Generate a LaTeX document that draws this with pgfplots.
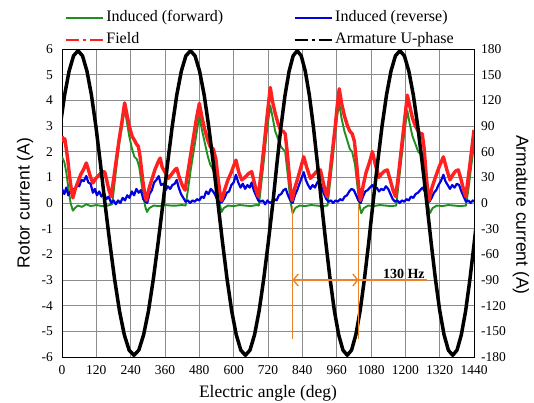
\documentclass[border=0pt]{standalone}
\usepackage{pgfplots}
\pgfplotsset{compat=1.18}
\usepackage{fontspec}
\setmainfont{Liberation Serif}
\newfontfamily\arialfam{Liberation Sans}
\usetikzlibrary{arrows.meta}
\definecolor{cForward}{HTML}{1F8F1F}
\definecolor{cReverse}{HTML}{0000E0}
\definecolor{cField}{HTML}{FF2020}
\definecolor{cOrange}{HTML}{E8842C}
\definecolor{cGrid}{HTML}{8C8C8C}

\begin{document}
\begin{tikzpicture}
\pgfplotsset{
  every axis/.append style={
    scale only axis, width=412pt, height=308pt,
    xmin=0, xmax=1440,
    tick style={draw=none},
    /pgf/number format/assume math mode=true,
    /pgf/number format/1000 sep={},
    tick label style={font=\rmfamily\fontsize{13.5}{14}\selectfont},
    axis line style={line width=0.9pt},
    every axis plot/.append style={line join=round},
  }
}
\begin{axis}[
  ymin=-6, ymax=6,
  xtick={0,120,...,1440}, ytick={-6,-5,...,6},
  grid=major, grid style={cGrid, line width=0.9pt},
  xticklabel style={inner sep=0pt, yshift=-8pt},
  yticklabel style={inner sep=0pt, xshift=-9pt},
  xlabel={Electric angle (deg)},
  ylabel={Rotor current (A)},
  xlabel style={font=\rmfamily\fontsize{17.5}{18}\selectfont,
    at={(axis description cs:0.5,0)}, anchor=north, inner sep=0pt, yshift=-28pt},
  ylabel style={font=\arialfam\fontsize{17.5}{18}\selectfont,
    at={(axis description cs:-0.0898,0.5)}, anchor=center},
  legend columns=2,
  legend cell align=left,
  legend image code/.code={\draw[#1] (0pt,0pt) -- (37pt,0pt);},
  legend style={draw=none, fill=none, inner sep=0pt, outer sep=0pt,
    at={(0.007,1.127)}, anchor=north west,
    font=\rmfamily\fontsize{16}{17}\selectfont,
    nodes={inner sep=0.5pt, text height=11pt, text depth=3.5pt},
    row sep=6.5pt,
    /tikz/every odd column/.append style={column sep=2pt},
    /tikz/every even column/.append style={column sep=70pt}},
]
\addlegendimage{color=cForward, line width=1.8pt}
\addlegendimage{color=cReverse, line width=1.8pt}
\addlegendimage{color=cField, line width=2pt, dash pattern=on 13pt off 4pt on 3pt off 4pt on 13pt}
\addlegendimage{color=black, line width=2pt, dash pattern=on 13pt off 4pt on 3pt off 4pt on 13pt}
\legend{Induced (forward), Induced (reverse), Field, Armature U-phase}

% Induced (forward)
\addplot[color=cForward, line width=1.9pt, forget plot] coordinates {
(0,1.8)(8,1.6)(15,1.2)(22,0.6)(30,0.0)(38,-0.3)(45,-0.2)(55,-0.1)(70,-0.15)(85,-0.05)
(100,-0.12)(120,-0.08)(140,-0.12)(160,-0.1)(175,-0.05)(180,0.4)(190,1.4)(200,2.3)(210,3.0)(219,3.7)
(226,3.2)(235,2.6)(245,2.1)(253,1.8)(262,1.7)(270,1.4)(280,0.6)(290,-0.1)(297,-0.35)(305,-0.2)
(320,-0.1)(340,-0.12)(360,-0.08)(380,-0.1)(400,-0.1)(420,-0.08)(432,-0.1)(440,0.5)(450,1.3)(460,2.0)
(470,2.7)(480,3.4)(490,2.8)(500,2.3)(510,1.8)(518,1.5)(528,1.3)(538,0.9)(548,0.1)(558,-0.35)
(565,-0.2)(580,-0.1)(600,-0.12)(620,-0.08)(640,-0.1)(660,-0.12)(680,-0.08)(688,-0.1)(695,0.6)(705,1.6)
(715,2.7)(722,3.3)(728,3.8)(735,3.4)(745,2.8)(755,2.5)(765,2.2)(772,2.1)(780,2.0)(790,1.0)
(798,0.1)(806,-0.4)(815,-0.2)(830,-0.1)(850,-0.12)(870,-0.08)(890,-0.1)(910,-0.12)(928,-0.1)(935,0.6)
(945,1.6)(955,2.7)(962,3.4)(969,3.9)(977,3.3)(987,2.8)(998,2.4)(1006,2.1)(1014,2.0)(1024,1.5)
(1033,0.6)(1040,-0.1)(1046,-0.4)(1055,-0.2)(1070,-0.1)(1090,-0.12)(1110,-0.08)(1130,-0.1)(1150,-0.12)(1168,-0.1)
(1175,0.6)(1185,1.6)(1195,2.6)(1207,3.6)(1215,3.1)(1225,2.6)(1235,2.3)(1245,2.0)(1259,1.85)(1266,1.4)
(1274,0.5)(1280,-0.1)(1286,-0.4)(1295,-0.2)(1310,-0.1)(1330,-0.12)(1350,-0.08)(1370,-0.1)(1390,-0.12)(1412,-0.1)
(1420,0.5)(1430,1.4)(1440,2.3)
};

% Induced (reverse)
\addplot[color=cReverse, line width=2.2pt, forget plot] coordinates {
(0,0.55)(8,0.35)(15,0.6)(22,0.3)(30,0.45)(38,0.55)(45,0.5)(52,0.75)(60,0.65)(68,0.9)
(76,0.85)(85,1.05)(92,0.8)(100,0.75)(108,0.4)(115,0.55)(122,0.3)(130,0.45)(138,0.25)(146,0.4)
(155,0.15)(163,0.25)(172,0.0)(180,0.1)(188,-0.05)(196,0.1)(204,0.0)(212,0.2)(220,0.1)(228,0.3)
(236,0.2)(244,0.45)(252,0.3)(260,0.55)(268,0.4)(276,0.5)(284,0.15)(292,0.05)(298,0.0)(306,0.35)
(314,0.5)(322,0.8)(330,0.9)(338,1.05)(346,0.7)(354,0.75)(362,0.5)(370,0.65)(378,0.55)(386,0.7)
(394,0.75)(401,0.9)(408,0.6)(416,0.35)(424,0.2)(432,0.05)(440,0.1)(448,0.0)(456,0.1)(464,0.05)
(472,0.15)(480,0.1)(488,0.25)(496,0.2)(504,0.45)(512,0.35)(520,0.55)(528,0.45)(536,0.3)(544,0.1)
(552,0.0)(560,0.05)(568,0.2)(576,0.4)(584,0.45)(592,0.7)(600,0.8)(608,1.1)(616,0.8)(624,0.6)
(632,0.75)(640,0.55)(648,0.7)(656,0.6)(663,0.8)(670,0.5)(678,0.3)(686,0.1)(694,0.05)(702,0.1)
(710,-0.05)(718,0.1)(726,0.0)(734,0.05)(742,0.15)(750,0.1)(758,0.3)(766,0.35)(774,0.5)(782,0.55)
(790,0.3)(798,0.1)(806,0.0)(814,0.3)(822,0.5)(830,0.75)(838,1.0)(845,1.2)(852,0.9)(860,0.7)
(868,0.55)(876,0.7)(884,0.6)(892,0.8)(900,0.85)(908,0.6)(916,0.35)(924,0.15)(932,0.05)(940,0.1)
(948,0.0)(956,0.1)(964,0.05)(972,0.15)(980,0.1)(988,0.25)(996,0.3)(1004,0.45)(1012,0.55)(1020,0.5)
(1028,0.3)(1036,0.1)(1044,0.0)(1052,0.25)(1060,0.45)(1068,0.5)(1076,0.6)(1085,0.7)(1092,0.55)(1100,0.6)
(1108,0.45)(1116,0.55)(1124,0.5)(1132,0.65)(1140,0.55)(1148,0.35)(1156,0.15)(1164,0.05)(1172,0.1)(1180,0.0)
(1188,0.1)(1196,0.05)(1204,0.15)(1212,0.1)(1220,0.25)(1228,0.2)(1236,0.35)(1244,0.4)(1252,0.5)(1260,0.6)
(1268,0.45)(1276,0.2)(1284,0.05)(1292,0.2)(1300,0.4)(1308,0.5)(1316,0.7)(1324,0.85)(1333,1.1)(1340,0.85)
(1348,0.7)(1356,0.55)(1364,0.7)(1372,0.6)(1380,0.75)(1388,0.7)(1396,0.45)(1404,0.25)(1412,0.05)(1420,0.1)
(1428,0.0)(1436,0.1)(1440,0.05)
};

% Field
\addplot[color=cField, line width=3.4pt, forget plot] coordinates {
(0,2.6)(5,2.4)(10,2.5)(15,2.1)(20,1.7)(27,1.0)(33,0.5)(38,0.2)(45,0.5)(55,0.8)
(65,1.1)(75,1.3)(85,1.56)(92,1.3)(100,1.0)(108,0.78)(118,0.95)(130,1.1)(140,1.2)(149,1.22)
(156,0.9)(164,0.5)(172,0.25)(180,0.9)(190,1.7)(200,2.5)(210,3.2)(219,3.9)(226,3.5)(235,3.0)
(245,2.6)(253,2.45)(260,2.3)(267,2.2)(273,1.8)(282,0.9)(290,0.3)(295,0.1)
(305,0.6)(315,0.95)(325,1.3)(336,1.6)(343,1.75)(350,1.4)(360,1.2)(372,0.96)(385,1.15)(395,1.3)
(401,1.35)(410,1.0)(420,0.7)(430,0.5)(440,1.2)(450,1.9)(460,2.6)(470,3.3)(480,3.88)(488,3.4)
(498,2.9)(508,2.5)(518,2.2)(529,2.1)(538,1.7)(546,0.9)(552,0.4)(558,0.1)
(568,0.5)(580,0.9)(592,1.2)(600,1.45)(608,1.67)(618,1.2)(628,0.9)(640,1.0)(652,1.15)(663,1.22)
(672,0.8)(680,0.45)(686,0.25)(695,1.1)(705,2.1)(715,3.2)(722,3.9)(728,4.5)(735,4.0)(745,3.5)
(755,3.1)(765,2.8)(772,2.8)(780,2.7)(787,2.0)(795,1.0)(800,0.4)(804,0.1)
(814,0.6)(825,1.0)(835,1.4)(845,1.8)(855,1.4)(868,0.96)(880,1.1)(892,1.25)(903,1.29)(912,0.85)
(920,0.45)(926,0.25)(935,1.0)(945,2.0)(955,3.0)(962,3.8)(969,4.45)(977,3.9)(987,3.4)(998,3.0)
(1006,2.8)(1014,2.7)(1022,2.4)(1030,1.5)(1037,0.6)(1043,0.1)
(1053,0.7)(1063,1.2)(1075,1.6)(1085,2.0)(1095,1.5)(1108,1.0)(1118,1.15)(1128,1.25)(1137,1.29)(1147,0.9)
(1157,0.5)(1166,0.25)(1175,1.0)(1185,2.0)(1195,3.0)(1207,4.2)(1215,3.8)(1225,3.3)(1235,3.0)(1245,2.8)
(1252,2.7)(1259,2.7)(1266,2.1)(1272,1.2)(1278,0.5)(1283,0.1)
(1293,0.6)(1305,1.0)(1318,1.4)(1333,1.8)(1345,1.3)(1356,0.9)(1366,1.1)(1376,1.25)(1385,1.29)(1395,0.9)
(1404,0.5)(1411,0.25)(1420,1.0)(1430,1.9)(1440,2.85)
};
\end{axis}

\begin{axis}[
  ymin=-180, ymax=180,
  ytick={-180,-150,...,180},
  axis y line*=right, axis x line=none,
  yticklabel style={inner sep=0pt, xshift=7pt},
  ylabel={Armature current (A)},
  ylabel style={font=\arialfam\fontsize{17.5}{18}\selectfont, rotate=180,
    at={(axis description cs:1.114,0.461)}, anchor=center},
]
% Armature U-phase
\addplot[color=black, line width=3.5pt] coordinates {
(-38,0)(-22.3,46)(-6.7,89)(9,126)(24.7,154)(40.3,172)(56,178)(71.7,172)(87.3,154)(103,126)(118.7,89)(134.3,46)
(150,0)(166.9,-46)(183.8,-89)(200.8,-126)(217.7,-154)(234.6,-172)(251.5,-178)(268.4,-172)(285.3,-154)(302.3,-126)(319.2,-89)(336.1,-46)
(353,0)(369,46)(385,89)(401,126)(417,154)(433,172)(449,178)(465,172)(481,154)(497,126)(513,89)(529,46)
(545,0)(561,-46)(577,-89)(593,-126)(609,-154)(625,-172)(641,-178)(657,-172)(673,-154)(689,-126)(705,-89)(721,-46)
(737,0)(751.2,46)(765.3,89)(779.5,126)(793.7,154)(807.8,172)(822,178)(836.2,172)(850.3,154)(864.5,126)(878.7,89)(892.8,46)
(907,0)(922,-46)(937,-89)(952,-126)(967,-154)(982,-172)(997,-178)(1012,-172)(1027,-154)(1042,-126)(1057,-89)(1072,-46)
(1087,0)(1102.7,46)(1118.3,89)(1134,126)(1149.7,154)(1165.3,172)(1181,178)(1196.7,172)(1212.3,154)(1228,126)(1243.7,89)(1259.3,46)
(1275,0)(1290.1,-46)(1305.2,-89)(1320.3,-126)(1335.3,-154)(1350.4,-172)(1365.5,-178)(1380.6,-172)(1395.7,-154)(1410.8,-126)(1425.8,-89)(1440.9,-46)
(1456,0)
};
% 130 Hz annotation
\draw[cOrange, line width=1.4pt] (axis cs:805,-159) -- (axis cs:805,-4);
\draw[cOrange, line width=1.4pt] (axis cs:1037,-159) -- (axis cs:1037,0);
\draw[cOrange, line width=1.4pt, {Straight Barb[length=5pt,width=12pt]}-{Straight Barb[length=5pt,width=12pt]}]
  (axis cs:805,-90) -- (axis cs:1037,-90);
\draw[cOrange, line width=1.4pt] (axis cs:1037,-90) -- (axis cs:1275,-90);
\node[font=\rmfamily\bfseries\fontsize{14}{14}\selectfont, anchor=south, inner sep=1pt] at (axis cs:1195,-90) {130 Hz};
\end{axis}
\pgfresetboundingbox
\path[use as bounding box] (-62pt,-46pt) rectangle (472pt,357pt);
\end{tikzpicture}
\end{document}
